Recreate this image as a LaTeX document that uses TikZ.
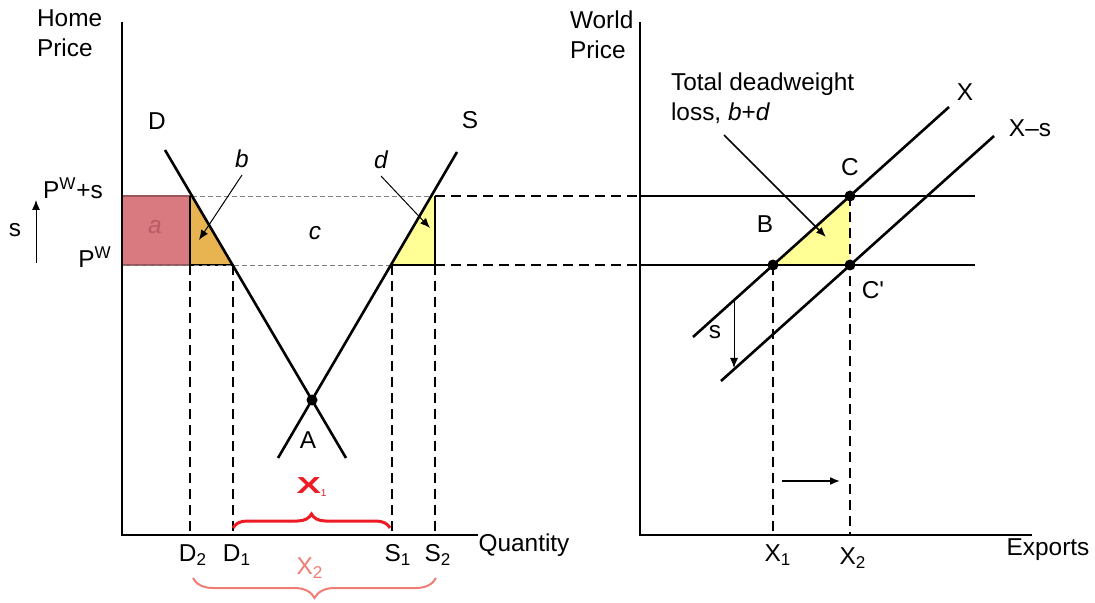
\documentclass[tikz,border=0pt]{standalone}
\usepackage{fontspec}
\setmainfont{Liberation Sans}
\usetikzlibrary{decorations.pathreplacing,arrows.meta}
\definecolor{areaA}{RGB}{217,122,128}
\definecolor{labelA}{RGB}{185,90,100}
\definecolor{areaB}{RGB}{232,180,82}
\definecolor{areaD}{RGB}{255,255,150}
\definecolor{exportred}{RGB}{237,28,36}
\definecolor{bracesalmon}{RGB}{240,125,115}
\begin{document}
\begin{tikzpicture}[x=0.5pt,y=-0.5pt,font=\fontsize{12.2}{15}\selectfont,
  curve/.style={line width=1.3pt},
  axis/.style={line width=1pt},
  guide/.style={line width=0.4pt,gray,dash pattern=on 2.5pt off 1.5pt},
  drop/.style={line width=1pt,dash pattern=on 5pt off 3pt},
  dot/.style={circle,fill,inner sep=0pt,minimum size=5.5pt},
  pointer/.style={-{Latex[length=5pt,width=4pt]},line width=0.5pt}]
  \useasboundingbox (0,0) rectangle (1095,603);

  % Home market: subsidy raises the home price to P^W+s
  \begin{scope}
    \coordinate (Dtop) at (165,150);
    \coordinate (Dbot) at (346,458);
    \coordinate (Stop) at (457,152);
    \coordinate (Sbot) at (278,458);
    \coordinate (Dhi) at (192,196);
    \coordinate (Dlo) at (232.6,265);
    \coordinate (Shi) at (431.3,196);
    \coordinate (Slo) at (392.1,265);
    \fill[areaA] (122,196) rectangle (190,265);
    \draw[areaA!70!black,line width=0.6pt] (122,196) rectangle (190,265);
    \fill[areaB] (190,196) -- (Dhi) -- (Dlo) -- (190,265) -- cycle;
    \fill[areaD] (Slo) -- (Shi) -- (435,196) -- (435,265) -- cycle;
    \draw[line width=0.8pt] (190,196) -- (190,265) -- (Dlo);
    \draw[guide] (Dhi) -- (Shi);
    \draw[guide] (122,265) -- (Slo);
    \draw[line width=0.8pt] (Slo) -- (435,265) -- (435,196);
    \draw[drop] (435,196) -- (640,196);
    \draw[drop] (435,265) -- (640,265);
    \draw[drop] (190,265) -- (190,535);
    \draw[drop] (Dlo) -- (232.6,535);
    \draw[drop] (Slo) -- (392.1,535);
    \draw[drop] (435,265) -- (435,535);
    \draw[axis] (122,22) -- (122,535) -- (478,535);
    \draw[curve] (Dtop) -- (Dbot);
    \draw[curve] (Sbot) -- (Stop);
    \node[dot] (A) at (312,400) {};

    \node[align=left,anchor=west] (homeP) at (30,33) {Home\\Price};
    \node (labD) at (157,121) {D};
    \node (labS) at (470,120) {S};
    \node (labPs) at (73,188) {P\textsuperscript{W}+s};
    \node (labP) at (95,257) {P\textsuperscript{W}};
    \node (labs) at (15,230) {s};
    \coordinate (sLo) at (36,263);
    \coordinate (sHi) at (36,200);
    \draw[pointer] (sLo) -- (sHi);
    \node[text=labelA,font=\fontsize{12.2}{15}\selectfont\itshape] (labA) at (155,227) {a};
    \node[font=\fontsize{12.2}{15}\selectfont\itshape] (labB) at (242,159) {b};
    \node[font=\fontsize{12.2}{15}\selectfont\itshape] (labC) at (315,233) {c};
    \node[font=\fontsize{12.2}{15}\selectfont\itshape] (labDd) at (381,160) {d};
    \coordinate (bTip) at (199,240);
    \coordinate (dTip) at (430,228);
    \draw[pointer] (labB.south) -- (bTip);
    \draw[pointer] (labDd.south) -- (dTip);
    \node (labApt) at (308,440) {A};

    \node (labD2) at (193,555) {D\textsubscript{2}};
    \node (labD1) at (237,555) {D\textsubscript{1}};
    \node (labS1) at (398,555) {S\textsubscript{1}};
    \node (labS2) at (438,555) {S\textsubscript{2}};
    \node (labQ) at (524,545) {Quantity};

    % exports before and after the subsidy
    \coordinate (xOneL) at (233,528);
    \coordinate (xOneR) at (390,528);
    \draw[exportred,line width=1.5pt,decorate,decoration={brace,amplitude=7pt}] (xOneL) -- (xOneR);
    \node[text=exportred] (labXone) at (312,487) {\scalebox{1.5}[0.95]{\bfseries X}\textsubscript{\fontsize{5}{6}\selectfont 1}};
    \coordinate (xTwoR) at (436,578);
    \coordinate (xTwoL) at (193,578);
    \draw[bracesalmon,line width=1pt,decorate,decoration={brace,amplitude=10pt}] (xTwoR) -- (xTwoL);
    \node[text=bracesalmon] (labXtwo) at (310,568) {X\textsubscript{2}};
  \end{scope}

  % World market: export supply shifts down by s
  \begin{scope}
    \coordinate (B) at (773,265);
    \coordinate (C) at (850,196);
    \coordinate (Cp) at (850,265);
    \coordinate (Xtop) at (949,107);
    \coordinate (Xbot) at (693,337);
    \coordinate (Xstop) at (994,136);
    \coordinate (Xsbot) at (721,381);
    \fill[areaD] (B) -- (C) -- (Cp) -- cycle;
    \draw[drop] (B) -- (773,535);
    \draw[drop] (C) -- (850,535);
    \draw[axis] (640,22) -- (640,535) -- (1032,535);
    \draw[axis] (640,196) -- (975,196);
    \draw[axis] (640,265) -- (975,265);
    \draw[curve] (Xbot) -- (Xtop);
    \draw[curve] (Xsbot) -- (Xstop);
    \node[dot] (dotB) at (B) {};
    \node[dot] (dotC) at (C) {};
    \node[dot] (dotCp) at (Cp) {};

    \node[align=left,anchor=west] (worldP) at (563,35) {World\\Price};
    \node[align=left,anchor=west] (dwl) at (664,98) {Total deadweight\\loss, \textit{b}+\textit{d}};
    \coordinate (dwlTail) at (724,135);
    \coordinate (dwlTip) at (826,237);
    \draw[pointer,line width=0.8pt] (dwlTail) -- (dwlTip);
    \node (labX) at (965,92) {X};
    \node (labXs) at (1030,128) {X–s};
    \node (labCpt) at (850,167) {C};
    \node (labBpt) at (765,224) {B};
    \node (labCppt) at (873,290) {C\textquotesingle};
    \node (labss) at (715,332) {s};
    \coordinate (shiftHi) at (734,301);
    \coordinate (shiftLo) at (734,368);
    \draw[pointer] (shiftHi) -- (shiftLo);
    \coordinate (moveL) at (782,481);
    \coordinate (moveR) at (840,481);
    \draw[pointer,line width=0.8pt] (moveL) -- (moveR);
    \node (labX1) at (778,555) {X\textsubscript{1}};
    \node (labX2) at (853,558) {X\textsubscript{2}};
    \node (labExp) at (1048,550) {Exports};
  \end{scope}
\end{tikzpicture}
\end{document}
